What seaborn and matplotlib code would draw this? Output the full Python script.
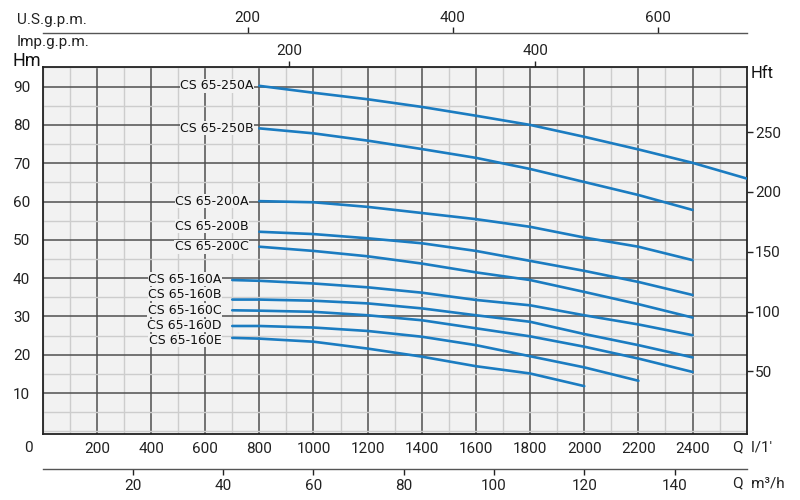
import matplotlib
matplotlib.use("Agg")
import matplotlib.pyplot as plt
import seaborn as sns
import pandas as pd
from matplotlib.ticker import MultipleLocator

# Pump curves: flow in l/min, head in m
q_250 = [800, 1000, 1200, 1400, 1600, 1800, 2000, 2200, 2400, 2600]
h_250a = [90.2, 88.4, 86.7, 84.7, 82.4, 80.0, 76.9, 73.6, 70.1, 66.0]

q_mid = [800, 1000, 1200, 1400, 1600, 1800, 2000, 2200, 2400]
h_250b = [79.1, 77.8, 75.9, 73.7, 71.4, 68.5, 65.1, 61.7, 57.8]
h_200a = [60.1, 59.8, 58.6, 57.0, 55.4, 53.4, 50.6, 48.2, 44.7]
h_200b = [52.1, 51.5, 50.4, 49.1, 47.1, 44.5, 41.9, 39.0, 35.6]
h_200c = [48.2, 47.1, 45.7, 43.8, 41.5, 39.5, 36.4, 33.2, 29.7]

q_160 = [700, 800, 1000, 1200, 1400, 1600, 1800, 2000, 2200, 2400]
h_160a = [39.5, 39.3, 38.6, 37.6, 36.2, 34.3, 32.9, 30.3, 27.9, 25.1]
h_160b = [34.4, 34.4, 34.1, 33.4, 32.1, 30.3, 28.6, 25.4, 22.5, 19.3]
h_160c = [31.6, 31.5, 31.2, 30.3, 29.0, 26.9, 24.8, 22.1, 19.0, 15.5]
h_160d = [27.5, 27.5, 27.1, 26.2, 24.7, 22.5, 19.6, 16.7, 13.2]
h_160e = [24.4, 24.2, 23.4, 21.6, 19.5, 17.0, 15.1, 11.8]

models = ["CS 65-250A", "CS 65-250B", "CS 65-200A", "CS 65-200B", "CS 65-200C",
          "CS 65-160A", "CS 65-160B", "CS 65-160C", "CS 65-160D", "CS 65-160E"]
flows = [q_250, q_mid, q_mid, q_mid, q_mid,
         q_160, q_160, q_160, q_160[:9], q_160[:8]]
heads = [h_250a, h_250b, h_200a, h_200b, h_200c,
         h_160a, h_160b, h_160c, h_160d, h_160e]

lpm_ticks = list(range(200, 2401, 200))
m_ticks = list(range(10, 91, 10))
ft_ticks = [50, 100, 150, 200, 250]
usgpm_ticks = [200, 400, 600]
impgpm_ticks = [200, 400]
m3h_ticks = [20, 40, 60, 80, 100, 120, 140]

rows = []
for name, qs, hs in zip(models, flows, heads):
    for q, h in zip(qs, hs):
        rows.append({"model": name, "q": q, "h": h})
df = pd.DataFrame(rows)

sns.set_style("white")
plt.rcParams["font.family"] = ["Roboto", "DejaVu Sans"]

blue = "#1b7cc1"
bg = "#f2f2f2"

fig = plt.figure(figsize=(8, 5), dpi=100)
ax = fig.add_axes([0.0534, 0.132, 0.880, 0.7346])
ax.set_facecolor(bg)

sns.lineplot(data=df, x="q", y="h", units="model", estimator=None,
             color=blue, linewidth=1.9, ax=ax, zorder=3)

ax.set_xlim(0, 2600)
ax.set_ylim(-0.7, 95.2)
ax.set_xlabel("")
ax.set_ylabel("")

ax.set_xticks(lpm_ticks)
ax.set_yticks(m_ticks)
ax.xaxis.set_minor_locator(MultipleLocator(100))
ax.yaxis.set_minor_locator(MultipleLocator(5))
ax.grid(which="major", color="#505050", linewidth=1.1, zorder=1)
ax.grid(which="minor", color="#cdcdcd", linewidth=1.0, zorder=1)
ax.set_axisbelow(True)
ax.tick_params(which="both", length=0, labelsize=11, colors="#222222")
ax.tick_params(axis="x", pad=6)
ax.tick_params(axis="y", pad=9)
for s in ax.spines.values():
    s.set_color("#222222")
    s.set_linewidth(1.3)

# model labels to the left of each curve start (small vertical nudges as in the original)
nudge = {"CS 65-200B": 1.5, "CS 65-160A": 0.25, "CS 65-160B": 1.4,
         "CS 65-160D": 0.1, "CS 65-160E": -0.7}
for name, qs, hs in zip(models, flows, heads):
    dq = 20 if "250" in name else 40
    ax.text(qs[0] - dq, hs[0] + nudge.get(name, 0.0), name, ha="right", va="center",
            fontsize=9, family="DejaVu Sans", color="#111111", zorder=4,
            bbox=dict(facecolor=bg, edgecolor="none", pad=0.3))

# secondary scales
right = ax.secondary_yaxis("right", functions=(lambda m: m * 3.2, lambda f: f / 3.2))
right.set_yticks(ft_ticks)
right.tick_params(length=4, width=1, pad=2, labelsize=11, colors="#222222")
right.spines["right"].set_visible(False)

imp = ax.secondary_xaxis("top", functions=(lambda q: q / 4.546, lambda g: g * 4.546))
imp.set_xticks(impgpm_ticks)
imp.tick_params(length=4, width=1, pad=2, labelsize=11, colors="#222222")
imp.spines["top"].set_visible(False)

us = ax.secondary_xaxis(1.0904, functions=(lambda q: q / 3.785, lambda g: g * 3.785))
us.set_xticks(usgpm_ticks)
us.tick_params(length=4, width=1, pad=2, labelsize=11, colors="#222222")
us.spines["top"].set_color("#555555")
us.spines["top"].set_linewidth(1.0)

m3h = ax.secondary_xaxis(-0.0953, functions=(lambda q: q * 0.06, lambda c: c / 0.06))
m3h.set_xticks(m3h_ticks)
m3h.tick_params(length=4, width=1, pad=3, labelsize=11, colors="#222222")
m3h.spines["bottom"].set_color("#555555")
m3h.spines["bottom"].set_linewidth(1.0)

# axis captions
fig.text(17 / 800, 1 - 20 / 500, "U.S.g.p.m.", fontsize=11, va="center", ha="left", color="#222222")
fig.text(17 / 800, 1 - 42 / 500, "Imp.g.p.m.", fontsize=11, va="center", ha="left", color="#222222")
fig.text(12 / 800, 1 - 61 / 500, "Hm", fontsize=13, va="center", ha="left", color="#111111")
fig.text(751 / 800, 1 - 73 / 500, "Hft", fontsize=12, va="center", ha="left", color="#111111")
fig.text(28 / 800, 1 - 448 / 500, "0", fontsize=11, va="center", ha="center", color="#222222")
fig.text(733 / 800, 1 - 447 / 500, "Q  l/1'", fontsize=11, va="center", ha="left", color="#222222")
fig.text(733 / 800, 1 - 483 / 500, "Q  m³/h", fontsize=11, va="center", ha="left", color="#222222")

fig.savefig("out.png", dpi=100)
